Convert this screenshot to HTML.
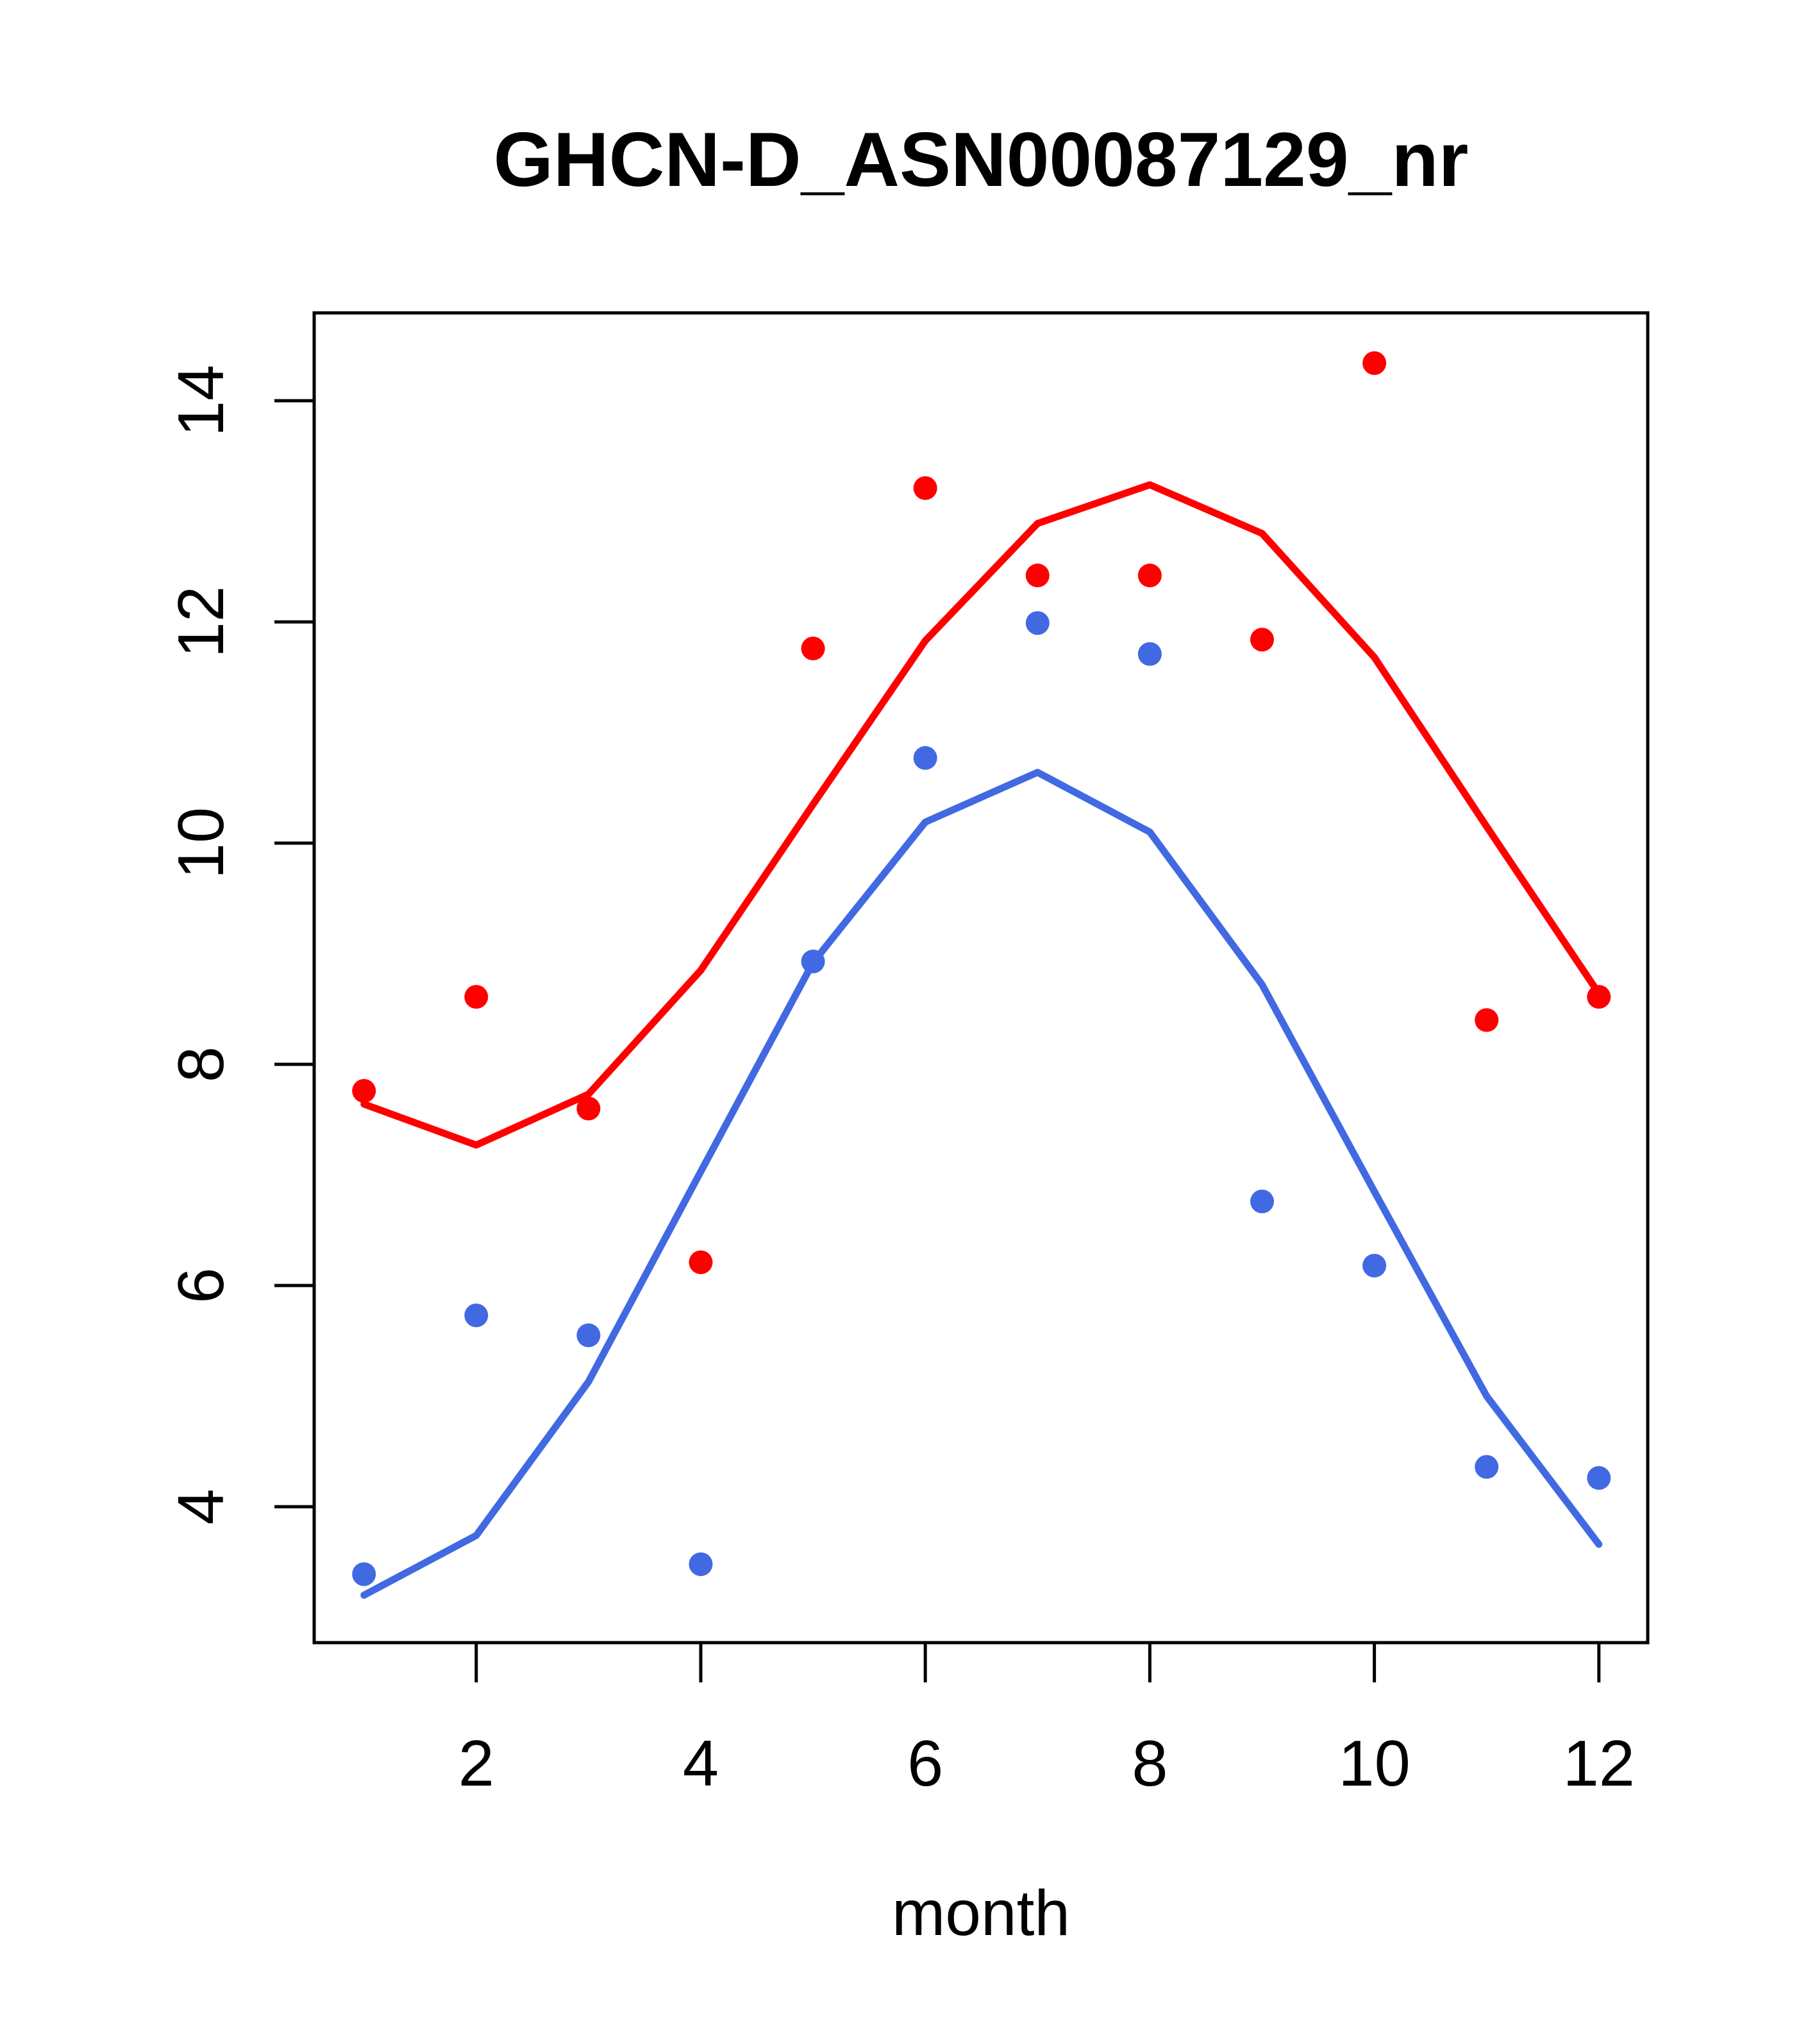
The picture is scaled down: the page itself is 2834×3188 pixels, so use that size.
<!DOCTYPE html>
<html><head><meta charset="utf-8"><style>
html,body{margin:0;padding:0;background:#fff;}
svg{display:block;}
text{font-family:"Liberation Sans",Arial,sans-serif;fill:#000;}
</style></head><body>
<svg id="chart" width="2834" height="3188" viewBox="0 0 2834 3188" xmlns="http://www.w3.org/2000/svg">
<text x="1530" y="290" font-size="120" font-weight="bold" text-anchor="middle">GHCN-D_ASN00087129_nr</text>
<text x="1530" y="3018" font-size="100" text-anchor="middle">month</text>
<g id="plot"></g>
</svg>
<script>
const months = [1,2,3,4,5,6,7,8,9,10,11,12];
const redPoints = [7.76,8.61,7.60,6.21,11.76,13.21,12.42,12.42,11.84,14.34,8.40,8.61];
const redLine = [7.64,7.27,7.73,8.85,10.35,11.83,12.89,13.24,12.80,11.68,10.15,8.64];
const bluePoints = [3.39,5.73,5.55,3.48,8.93,10.77,11.99,11.71,6.76,6.18,4.36,4.26];
const blueLine = [3.20,3.74,5.13,7.03,8.92,10.19,10.64,10.10,8.72,6.85,5.00,3.66];
const xTicks = [2,4,6,8,10,12];
const yTicks = [4,6,8,10,12,14];

const NS = "http://www.w3.org/2000/svg";
const g = document.getElementById('plot');
const L = 490, R = 2570, T = 488, B = 2562;
function xs(m){ return 567.7 + (m-1)*175.1; }
function ys(v){ return 2350 - (v-4)*172.5; }
function mk(tag, attrs){ const e = document.createElementNS(NS, tag); for (const k in attrs) e.setAttribute(k, attrs[k]); g.appendChild(e); return e; }

const box = mk('rect',{x:L,y:T,width:R-L,height:B-T,fill:'none',stroke:'#000','stroke-width':5});



xTicks.forEach(t => {
  const ln = mk('line',{x1:xs(t),x2:xs(t),y1:B,y2:B+62,stroke:'#000','stroke-width':5});
  
  
  const tx = mk('text',{x:xs(t),y:2785,'font-size':101,'text-anchor':'middle'});
  tx.textContent = t;
  
  
});
yTicks.forEach(t => {
  const ln = mk('line',{x1:L-62,x2:L,y1:ys(t),y2:ys(t),stroke:'#000','stroke-width':5});
  
  
  const tx = mk('text',{x:0,y:0,'font-size':101,'text-anchor':'middle',transform:`translate(348,${ys(t)}) rotate(-90)`});
  tx.textContent = t;
  
  
});

function drawLine(vals, color, name){
  const pts = months.map((m,i)=> xs(m)+','+ys(vals[i])).join(' ');
  const p = mk('polyline',{points:pts,fill:'none',stroke:color,'stroke-width':11,'stroke-linejoin':'round','stroke-linecap':'round'});
  
  
}
function drawPoints(vals, color, name){
  months.forEach((m,i)=>{
    const c = mk('circle',{cx:xs(m),cy:ys(vals[i]),r:18.5,fill:color});
    
    
  });
}
drawLine(redLine, '#ff0000', 'red-fit-line');
drawLine(blueLine, '#4169e1', 'blue-fit-line');
drawPoints(redPoints, '#ff0000', 'red-point');
drawPoints(bluePoints, '#4169e1', 'blue-point');
</script>
</body></html>
